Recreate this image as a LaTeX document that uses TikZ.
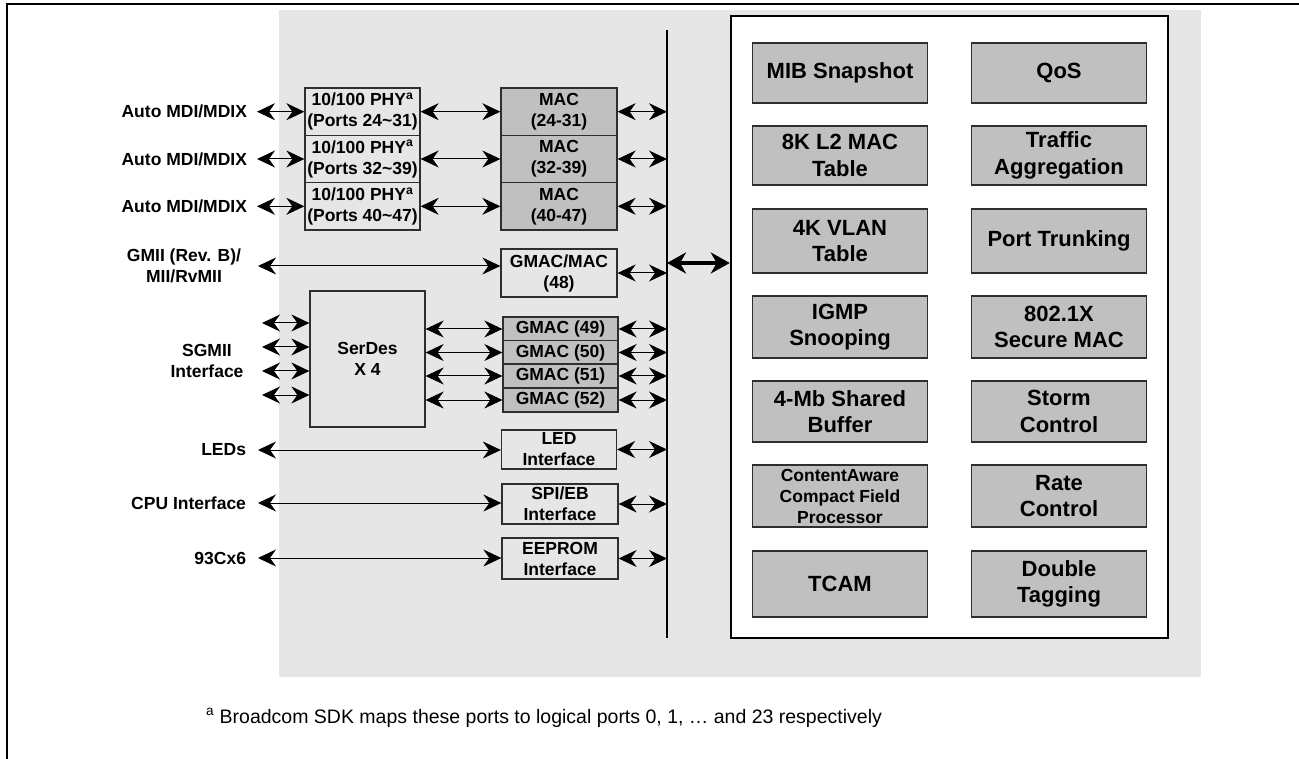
\documentclass[tikz,border=0pt]{standalone}
\usepackage{fontspec}
\setmainfont{Liberation Sans}
\usetikzlibrary{arrows.meta}

\definecolor{panelgray}{HTML}{E6E6E6}
\definecolor{blockgray}{HTML}{C0C0C0}
\definecolor{edgegray}{HTML}{2E2E2E}

\tikzset{
  lab/.style={font=\fontsize{17.5}{21}\selectfont\bfseries, align=center, inner sep=0pt, outer sep=0pt},
  plainbox/.style={draw=edgegray, line width=1.3pt, inner sep=0pt, align=center,
                   font=\fontsize{17.5}{21}\selectfont\bfseries},
  macbox/.style={plainbox, fill=blockgray},
  featbox/.style={draw=edgegray, line width=1.3pt, fill=blockgray, minimum width=174.5pt,
                  inner sep=0pt, align=center, font=\fontsize{22}{26.5}\selectfont\bfseries},
  biarrow/.style={line width=1pt, {Stealth[length=18pt,width=17pt,inset=6pt]}-{Stealth[length=18pt,width=17pt,inset=6pt]}},
  bigarrow/.style={line width=4pt, {Stealth[length=19pt,width=21pt,inset=6pt]}-{Stealth[length=19pt,width=21pt,inset=6pt]}},
}

\begin{document}
\begin{tikzpicture}[x=1pt, y=-1pt]
\useasboundingbox (0,0) rectangle (1299,759);

% page frame (top and left rules)
\draw[line width=2.5pt] (7,759) -- (7,4) -- (1299,4);

% chip area
\fill[panelgray] (279,10) rectangle (1201,677);

% internal bus
\coordinate (bustop) at (667,30);
\coordinate (busbot) at (667,638);
\draw[line width=1.2pt] (bustop) -- (busbot);

% switching core
\node[draw, line width=2.5pt, fill=white, minimum width=437pt, minimum height=622pt,
      inner sep=0pt] (core) at (949.5,327) {};
\coordinate (hub) at (667,263);
\draw[bigarrow] (hub) -- (hub -| core.west);

% feature blocks, left column
\node[featbox, minimum height=60pt] (mib)   at (840,73)    {MIB Snapshot};
\node[featbox, minimum height=59pt] (l2)    at (840,155.5) {8K L2 MAC\\Table};
\node[featbox, minimum height=64pt] (vlan)  at (840,241)   {4K VLAN\\Table};
\node[featbox, minimum height=62pt] (igmp)  at (840,327)   {IGMP\\Snooping};
\node[featbox, minimum height=61pt] (buf)   at (840,411.5) {4-Mb Shared\\Buffer};
\node[featbox, minimum height=62pt, font=\fontsize{17.5}{21}\selectfont\bfseries]
                                    (cfp)   at (840,496)   {ContentAware\\Compact Field\\Processor};
\node[featbox, minimum height=66pt] (tcam)  at (840,584)   {TCAM};

% feature blocks, right column
\node[featbox, minimum height=60pt] (qos)   at (1059,73)    {QoS};
\node[featbox, minimum height=59pt] (aggr)  at (1059,155.5) {Traffic\\Aggregation};
\node[featbox, minimum height=64pt] (trunk) at (1059,241)   {Port Trunking};
\node[featbox, minimum height=62pt] (dotx)  at (1059,327)   {802.1X\\Secure MAC};
\node[featbox, minimum height=61pt] (storm) at (1059,411.5) {Storm\\Control};
\node[featbox, minimum height=62pt] (rate)  at (1059,496)   {Rate\\Control};
\node[featbox, minimum height=66pt] (dtag)  at (1059,584)   {Double\\Tagging};

% 10/100 PHYs and their MACs
\foreach \i/\y/\pa/\pb in {1/111.7/24/31, 2/159/32/39, 3/206.3/40/47} {
  \node[plainbox, minimum width=115pt, minimum height=47.3pt] (phy\i) at (362.5,\y)
       {10/100 PHY\textsuperscript{a}\\(Ports \pa\textasciitilde\pb)};
  \node[macbox, minimum width=116pt, minimum height=47.3pt] (mac\i) at (559,\y)
       {MAC\\(\pa-\pb)};
  \node[lab, anchor=east] (mdi\i) at (247,\y) {Auto MDI/MDIX};
  \draw[biarrow] ([xshift=10pt]mdi\i.east) -- (phy\i.west);
  \draw[biarrow] (phy\i.east) -- (mac\i.west);
  \draw[biarrow] (mac\i.east) -- (mac\i.east -| bustop);
}

% GMII port
\node[plainbox, minimum width=116pt, minimum height=48pt] (gmac48) at (559,273) {GMAC/MAC\\(48)};
\node[lab] (gmii) at (184,266) {GMII (Rev. B)/\\MII/RvMII};
\draw[biarrow] ([xshift=17pt]gmii.east) -- (gmii.east -| gmac48.west);
\draw[biarrow] (gmac48.east) -- (gmac48.east -| bustop);

% SGMII ports through the SerDes
\node[plainbox, minimum width=115pt, minimum height=136pt] (serdes) at (367.5,359) {SerDes\\X 4};
\node[lab] (sgmii) at (207,361) {SGMII\\Interface};
\foreach \i/\y in {1/323, 2/347, 3/371, 4/395} {
  \coordinate (sg\i) at (262,\y);
  \draw[biarrow] (sg\i) -- (sg\i -| serdes.west);
}
\foreach \i/\y/\g in {1/329/49, 2/352.5/50, 3/376/51, 4/400/52} {
  \node[macbox, minimum width=115pt, minimum height=23.7pt] (gm\i) at (560.5,\y) {GMAC (\g)};
  \draw[biarrow] (gm\i.west -| serdes.east) -- (gm\i.west);
  \draw[biarrow] (gm\i.east) -- (gm\i.east -| bustop);
}

% management interfaces
\node[plainbox, minimum width=115pt, minimum height=39pt] (led)    at (559,449.5) {LED\\Interface};
\node[plainbox, minimum width=116pt, minimum height=40pt] (spi)    at (560,504)   {SPI/EB\\Interface};
\node[plainbox, minimum width=116pt, minimum height=41pt] (eeprom) at (560,558.5) {EEPROM\\Interface};
\node[lab, anchor=east] (leds)  at (246,450) {LEDs};
\node[lab, anchor=east] (cpu)   at (246,503) {CPU Interface};
\node[lab, anchor=east] (serial) at (246,558) {93Cx6};
\draw[biarrow] ([xshift=12pt]leds.east) -- (leds.east -| led.west);
\draw[biarrow] ([xshift=12pt]cpu.east) -- (cpu.east -| spi.west);
\draw[biarrow] ([xshift=12pt]serial.east) -- (serial.east -| eeprom.west);
\draw[biarrow] (led.east) -- (led.east -| bustop);
\draw[biarrow] (spi.east) -- (spi.east -| bustop);
\draw[biarrow] (eeprom.east) -- (eeprom.east -| bustop);

% footnote
\node[anchor=base west, inner sep=0pt, font=\fontsize{19.5}{22}\selectfont] (note) at (206,723)
     {\textsuperscript{a} Broadcom SDK maps these ports to logical ports 0, 1, … and 23 respectively};
\end{tikzpicture}
\end{document}
